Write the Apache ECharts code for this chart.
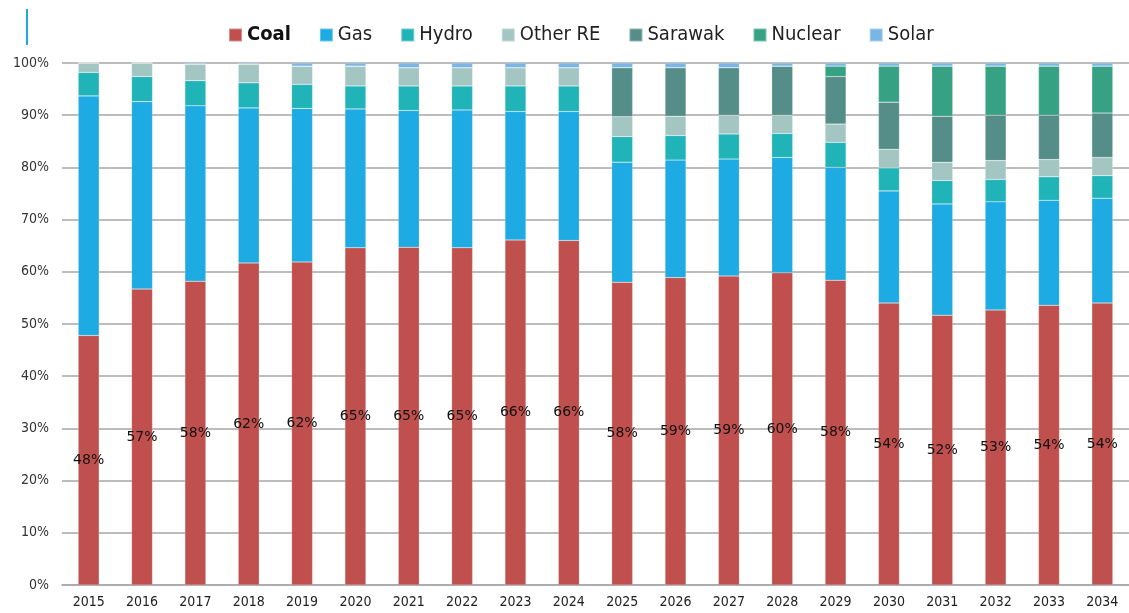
<!DOCTYPE html>
<html>
<head>
<meta charset="utf-8">
<title>Generation mix</title>
<script src="https://cdn.jsdelivr.net/npm/echarts@6/dist/echarts.min.js"></script>
<style>
	html, body { margin: 0; padding: 0; background: #fff; }
	#chart { width: 1129px; height: 613px; }
</style>
</head>
<body>
<div id="chart"></div>
<script>
	"use strict";
	// 年份(横坐标)
	var years = ['2015', '2016', '2017', '2018', '2019', '2020', '2021', '2022', '2023', '2024',
		'2025', '2026', '2027', '2028', '2029', '2030', '2031', '2032', '2033', '2034'];
	// 各燃料占比(%)，从下往上堆叠
	var coal = [47.8, 56.7, 58.2, 61.7, 61.9, 64.6, 64.7, 64.6, 66.1, 66.0,
		58.0, 58.9, 59.2, 59.8, 58.4, 54.0, 51.7, 52.7, 53.6, 54.0];
	var gas = [45.9, 35.9, 33.6, 29.7, 29.4, 26.6, 26.2, 26.4, 24.6, 24.7,
		23.0, 22.5, 22.4, 22.1, 21.6, 21.5, 21.3, 20.7, 20.1, 20.1];
	var hydro = [4.5, 4.8, 4.8, 4.8, 4.6, 4.4, 4.7, 4.6, 4.9, 4.9,
		4.9, 4.7, 4.8, 4.6, 4.8, 4.4, 4.5, 4.3, 4.5, 4.3];
	var otherRE = [1.8, 2.6, 3.2, 3.6, 3.5, 3.8, 3.5, 3.5, 3.5, 3.5,
		3.8, 3.7, 3.6, 3.5, 3.5, 3.6, 3.5, 3.6, 3.3, 3.5];
	var sarawak = [0, 0, 0, 0, 0, 0, 0, 0, 0, 0,
		9.4, 9.3, 9.1, 9.4, 9.1, 9.0, 8.8, 8.7, 8.5, 8.5];
	var nuclear = [0, 0, 0, 0, 0, 0, 0, 0, 0, 0,
		0, 0, 0, 0, 2.0, 6.9, 9.6, 9.4, 9.4, 9.0];
	var solar = [0, 0, 0.2, 0.2, 0.6, 0.6, 0.9, 0.9, 0.9, 0.9,
		0.9, 0.9, 0.9, 0.6, 0.6, 0.6, 0.6, 0.6, 0.6, 0.6];
	// y轴刻度
	var yMin = 0, yMax = 100, yStep = 10;

	var seriesNames = ['Coal', 'Gas', 'Hydro', 'Other RE', 'Sarawak', 'Nuclear', 'Solar'];
	var seriesData = [coal, gas, hydro, otherRE, sarawak, nuclear, solar];
	var colors = ['#c0504d', '#1eaae2', '#20b4b9', '#a3c6c2', '#558e89', '#37a283', '#7ab6e4'];

	var axisFont = "'Liberation Sans Narrow', 'DejaVu Sans Condensed', sans-serif";

	function makeSeries(idx) {
		var s = {
			name: seriesNames[idx],
			type: 'bar',
			stack: 'mix',
			barWidth: 21,
			data: seriesData[idx],
			itemStyle: {
				color: colors[idx],
				borderColor: 'rgba(255,255,255,0.35)',
				borderWidth: 0.5
			}
		};
		if (idx === 0) {
			// 煤电占比标签，放在柱子中间
			s.label = {
				show: true,
				position: 'inside',
				color: '#111',
				fontFamily: "'DejaVu Sans', sans-serif",
				fontSize: 14,
				formatter: function(p) {
					return Math.round(p.value) + '%';
				}
			};
		}
		return s;
	}

	var series = [];
	for (var i = 0; i < seriesNames.length; i++) {
		series.push(makeSeries(i));
	}

	var chart = echarts.init(document.getElementById('chart'));
	chart.setOption({
		animation: false,
		color: colors,
		legend: {
			top: 20,
			left: 223,
			itemWidth: 13,
			itemHeight: 13,
			itemGap: 28,
			icon: 'rect',
			data: seriesNames,
			formatter: function(name) {
				return name === 'Coal' ? '{b|Coal}' : name;
			},
			textStyle: {
				fontFamily: axisFont,
				fontSize: 20,
				color: '#222',
				rich: {
					b: { fontWeight: 'bold', fontSize: 20, fontFamily: axisFont, color: '#111' }
				}
			}
		},
		graphic: [{
			type: 'line',
			shape: { x1: 27, y1: 9, x2: 27, y2: 45 },
			style: { stroke: '#1eaae2', lineWidth: 2 }
		}],
		grid: {
			left: 62,
			right: 0,
			top: 63,
			bottom: 28
		},
		xAxis: {
			type: 'category',
			data: years,
			axisTick: { show: false },
			axisLine: { lineStyle: { color: '#a6a6a6', width: 1.5 } },
			axisLabel: {
				margin: 10,
				color: '#222',
				fontFamily: axisFont,
				fontSize: 14,
				interval: 0
			}
		},
		yAxis: {
			type: 'value',
			min: yMin,
			max: yMax,
			interval: yStep,
			axisLine: { show: false },
			axisTick: { show: false },
			splitLine: { lineStyle: { color: '#a6a6a6', width: 1.5 } },
			axisLabel: {
				margin: 13,
				color: '#333',
				fontFamily: axisFont,
				fontSize: 14,
				formatter: '{value}%'
			}
		},
		series: series
	});
</script>
</body>
</html>
